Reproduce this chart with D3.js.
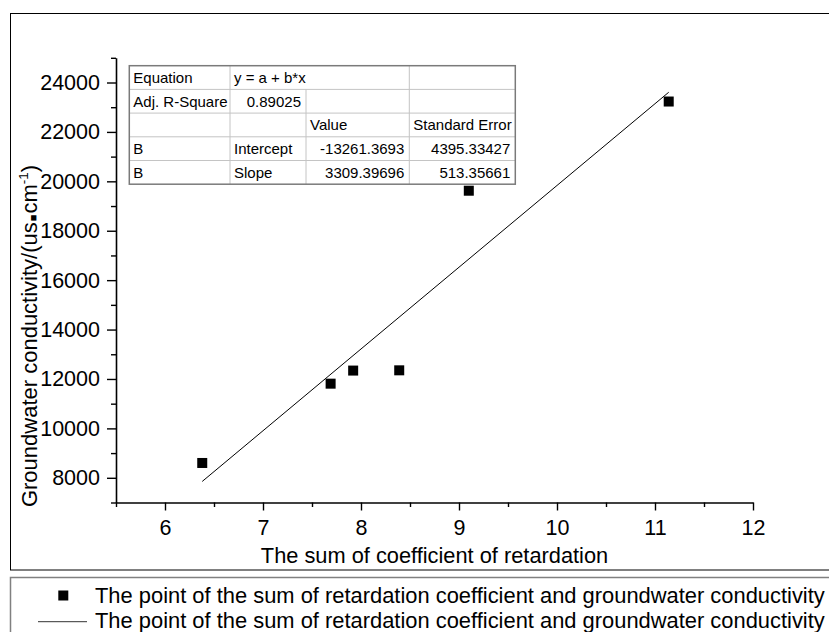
<!DOCTYPE html>
<html><head><meta charset="utf-8">
<script src="https://cdn.jsdelivr.net/npm/d3@7"></script>
<style>
body{margin:0;background:#fff}
svg{display:block}
text{font-family:"Liberation Sans",Arial,"DejaVu Sans",sans-serif;fill:#000}
</style>
</head><body>
<svg id="chart" width="829" height="632"></svg>
<script>
// ---------- data ----------
const xValues = [6.38, 7.69, 7.92, 8.39, 9.10, 11.14];
const yValues = [8600, 11810, 12340, 12350, 19620, 23230];
const fitIntercept = -13261.3693;
const fitSlope = 3309.39696;
const xMajorTicks = [6, 7, 8, 9, 10, 11, 12];
const xMinorTicks = [5.5, 6.5, 7.5, 8.5, 9.5, 10.5, 11.5];
const yMajorTicks = [8000, 10000, 12000, 14000, 16000, 18000, 20000, 22000, 24000];
const yMinorTicks = [7000, 9000, 11000, 13000, 15000, 17000, 19000, 21000, 23000, 25000];
const xTitle = "The sum of coefficient of retardation";
const yTitleMain = "Groundwater conductivity/(us";
const yTitleUnit = "cm";
const yTitleSup = "-1";
const legendLabels = [
  "The point of the sum of retardation coefficient and groundwater conductivity",
  "The point of the sum of retardation coefficient and groundwater conductivity"
];
const tableRow1 = ["Equation", "y = a + b*x", "", ""];
const tableRow2 = ["Adj. R-Square", "0.89025", "", ""];
const tableRow3 = ["", "", "Value", "Standard Error"];
const tableRow4 = ["B", "Intercept", "-13261.3693", "4395.33427"];
const tableRow5 = ["B", "Slope", "3309.39696", "513.35661"];

// ---------- layout ----------
const svg = d3.select("#chart");
const x = d3.scaleLinear().domain([5.5, 12]).range([116, 753]);
const y = d3.scaleLinear().domain([7000, 25000]).range([502.5, 57.8]);

// outer frame
svg.append("rect").attr("x", 10.5).attr("y", 13.5).attr("width", 830).attr("height", 556.5)
  .attr("fill", "none").attr("stroke", "#000").attr("stroke-width", 1);

// legend frame
svg.append("rect").attr("x", 10.5).attr("y", 577.5).attr("width", 830).attr("height", 70)
  .attr("fill", "none").attr("stroke", "#808080").attr("stroke-width", 1.5);

// axes
svg.append("g").attr("transform", `translate(0,${y(7000)})`)
  .call(d3.axisBottom(x).tickValues(xMajorTicks).tickSizeInner(8).tickSizeOuter(0).tickPadding(9.5)
    .tickFormat(d3.format("d")));
const xMinor = svg.append("g").attr("transform", `translate(0,${y(7000)})`)
  .call(d3.axisBottom(x).tickValues(xMinorTicks).tickSize(4.5).tickFormat(""));
xMinor.select(".domain").remove();

svg.append("g").attr("transform", `translate(${x(5.5)},0)`)
  .call(d3.axisLeft(y).tickValues(yMajorTicks).tickSizeInner(9).tickSizeOuter(0).tickPadding(7)
    .tickFormat(d3.format("d")));
const yMinor = svg.append("g").attr("transform", `translate(${x(5.5)},0)`)
  .call(d3.axisLeft(y).tickValues(yMinorTicks).tickSize(5).tickFormat(""));
yMinor.select(".domain").remove();

svg.selectAll(".domain").attr("stroke", "#000").attr("stroke-width", 1.6);
svg.selectAll(".tick line").attr("stroke", "#000").attr("stroke-width", 1.4);
svg.selectAll(".tick text").attr("font-size", 21.5).attr("font-family", "'Liberation Sans',Arial,sans-serif").attr("fill", "#000");

// axis titles
svg.append("text").attr("x", (x(5.5) + x(12)) / 2).attr("y", 562.5)
  .attr("text-anchor", "middle").attr("font-size", 21.8).text(xTitle);

const yt = svg.append("text").attr("transform", "translate(37,336) rotate(-90)")
  .attr("text-anchor", "middle").attr("font-size", 22);
yt.append("tspan").text(yTitleMain);
yt.append("tspan").attr("font-size", 11).attr("dx", 1).text("\u25A0");
yt.append("tspan").attr("dx", 1).text(yTitleUnit);
yt.append("tspan").attr("font-size", 13.5).attr("dy", -9.5).text(yTitleSup);
yt.append("tspan").attr("dy", 9.5).text(")");

// fit line
const xMin = d3.min(xValues), xMax = d3.max(xValues);
const fitData = [xMin, xMax].map(v => [v, fitIntercept + fitSlope * v]);
svg.append("path").datum(fitData)
  .attr("d", d3.line().x(d => x(d[0])).y(d => y(d[1])))
  .attr("fill", "none").attr("stroke", "#000").attr("stroke-width", 1);

// points
svg.append("g").selectAll("rect").data(xValues.map((v, i) => [v, yValues[i]])).join("rect")
  .attr("x", d => x(d[0]) - 5).attr("y", d => y(d[1]) - 5)
  .attr("width", 10).attr("height", 10).attr("fill", "#000");

// ---------- table ----------
const tableRows = [tableRow1, tableRow2, tableRow3, tableRow4, tableRow5];
const colEdges = [129.3, 230, 306, 409.3, 515.3];
const tTop = 65.7, rowH = 23.7;
const tg = svg.append("g");
tg.append("rect").attr("x", colEdges[0]).attr("y", tTop).attr("width", colEdges[4] - colEdges[0])
  .attr("height", rowH * 5).attr("fill", "#fff");
for (let r = 1; r < 5; r++) {
  tg.append("line").attr("x1", colEdges[0]).attr("x2", colEdges[4])
    .attr("y1", tTop + r * rowH).attr("y2", tTop + r * rowH)
    .attr("stroke", "#c4c4c4").attr("stroke-width", 1);
}
[[1, 0], [2, 1], [3, 0]].forEach(([c, startRow]) => {
  tg.append("line").attr("x1", colEdges[c]).attr("x2", colEdges[c])
    .attr("y1", tTop + startRow * rowH).attr("y2", tTop + 5 * rowH)
    .attr("stroke", "#c4c4c4").attr("stroke-width", 1);
});
tg.append("rect").attr("x", colEdges[0]).attr("y", tTop).attr("width", colEdges[4] - colEdges[0])
  .attr("height", rowH * 5).attr("fill", "none").attr("stroke", "#7a7a7a").attr("stroke-width", 1.5);

const isNumeric = s => /^-?[0-9.]+$/.test(s);
tableRows.forEach((row, r) => {
  row.forEach((txt, c) => {
    if (!txt) return;
    const right = isNumeric(txt);
    tg.append("text")
      .attr("x", right ? colEdges[c + 1] - 5 : colEdges[c] + 4)
      .attr("y", tTop + r * rowH + rowH / 2 + 5.5)
      .attr("text-anchor", right ? "end" : "start")
      .attr("font-size", 15).text(txt);
  });
});

// ---------- legend ----------
const lg = svg.append("g");
lg.append("rect").attr("x", 58.3).attr("y", 590.5).attr("width", 10).attr("height", 10).attr("fill", "#000");
lg.append("line").attr("x1", 38).attr("x2", 87).attr("y1", 621.7).attr("y2", 621.7)
  .attr("stroke", "#333").attr("stroke-width", 1);
lg.selectAll("text.leg").data(legendLabels).join("text").attr("class", "leg")
  .attr("x", 95).attr("y", (d, i) => 602.5 + i * 25.5).attr("font-size", 21.9).text(d => d);
</script>
</body></html>
